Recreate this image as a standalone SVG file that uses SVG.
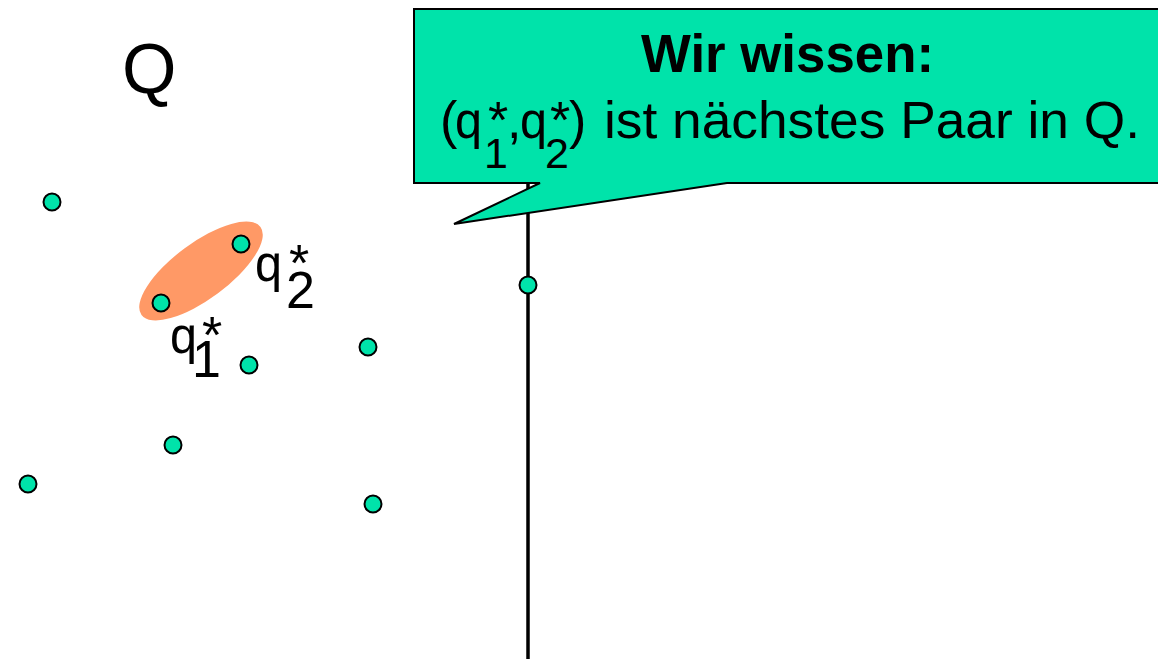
<svg xmlns="http://www.w3.org/2000/svg" width="1158" height="659" viewBox="0 0 1158 659">
<style>
text{font-family:"Liberation Sans",Arial,Helvetica,sans-serif;fill:#000}
.pt{fill:#00E3AA;stroke:#000;stroke-width:2}
.lbl{font-size:52px}
.cl{font-size:52px}
.sub{font-size:43px}
</style>
<rect width="1158" height="659" fill="#fff"/>
<g id="connectors">
<line x1="528" y1="20" x2="528" y2="659" stroke="#000" stroke-width="3.5"/>
</g>
<g id="pair-highlight">
<ellipse cx="201" cy="271" rx="74" ry="28" transform="rotate(-36.5 201 271)" fill="#FF9966"/>
</g>
<g id="title-Q"><text x="122" y="93" font-size="70">Q</text></g>
<g id="points">
<circle class="pt" cx="52" cy="202" r="8.5"/>
<circle class="pt" cx="241" cy="244" r="8.5"/>
<circle class="pt" cx="161" cy="303" r="8.5"/>
<circle class="pt" cx="249" cy="365" r="8.5"/>
<circle class="pt" cx="368" cy="347" r="8.5"/>
<circle class="pt" cx="528" cy="285" r="8.5"/>
<circle class="pt" cx="173" cy="445" r="8.5"/>
<circle class="pt" cx="28" cy="484" r="8.5"/>
<circle class="pt" cx="373" cy="504" r="8.5"/>
</g>
<g id="label-q1">
<text class="lbl" x="170" y="353" textLength="27" lengthAdjust="spacingAndGlyphs">q</text>
<text class="lbl" x="202" y="353">*</text>
<text class="lbl" x="192" y="377">1</text>
</g>
<g id="label-q2">
<text class="lbl" x="255" y="281" textLength="27" lengthAdjust="spacingAndGlyphs">q</text>
<text class="lbl" x="289" y="281">*</text>
<text class="lbl" x="286" y="308">2</text>
</g>
<g id="callout">
<path d="M414,9 H1170 V183 H727 L454,224 L540,183 H414 Z" fill="#00E3AA" stroke="#000" stroke-width="2" stroke-linejoin="miter"/>
<text x="641" y="72" font-size="54" font-weight="bold" textLength="293" lengthAdjust="spacingAndGlyphs">Wir wissen:</text>
<text class="cl" x="440" y="138">(</text>
<text class="cl" x="455" y="138" textLength="27" lengthAdjust="spacingAndGlyphs">q</text>
<text class="cl" x="488" y="138">*</text>
<text class="sub" x="484" y="168">1</text>
<text class="cl" x="507" y="138">,</text>
<text class="cl" x="520" y="138" textLength="27" lengthAdjust="spacingAndGlyphs">q</text>
<text class="cl" x="550" y="138">*</text>
<text class="sub" x="545" y="168">2</text>
<text class="cl" x="569" y="138">)</text>
<text class="cl" x="604" y="138" textLength="536" lengthAdjust="spacingAndGlyphs">ist nächstes Paar in Q.</text>
</g>
</svg>
